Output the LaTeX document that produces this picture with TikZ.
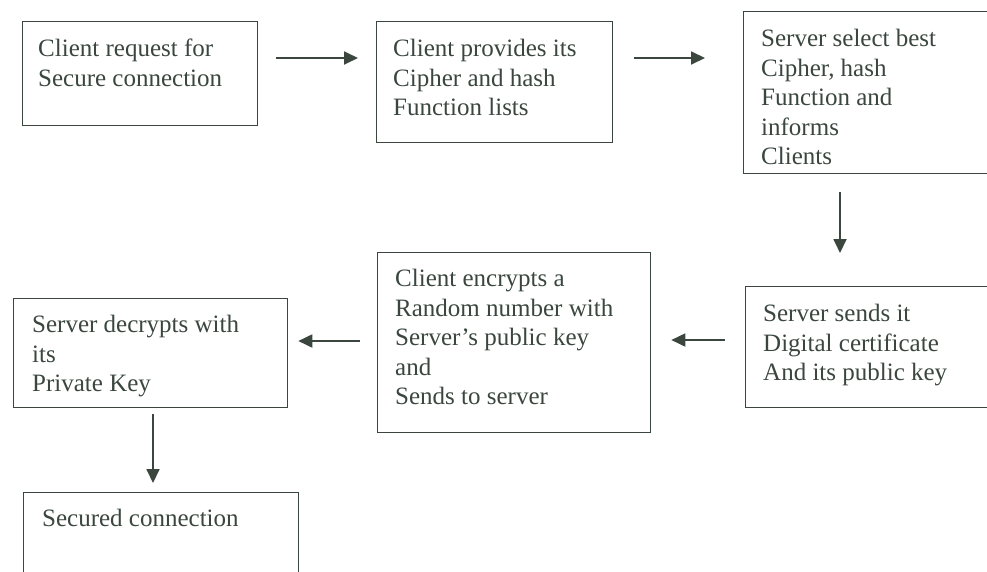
\documentclass[tikz,border=0pt]{standalone}
\usepackage{fontspec}
\setmainfont{Liberation Serif}
\usepackage{tikz}
\usetikzlibrary{arrows.meta}

\definecolor{ink}{RGB}{58,70,62}

\tikzset{
	stepbox/.style={draw=ink, line width=1.3pt, anchor=north west, inner sep=0pt},
	steptext/.style={anchor=north west, inner sep=0pt, align=left, text=ink,
		font=\fontsize{25}{29.6}\selectfont},
	flow/.style={draw=ink, line width=1.8pt, -{Triangle[length=14pt, width=13pt]}}
}

\begin{document}
\begin{tikzpicture}[x=1pt, y=-1pt]
		\useasboundingbox (0, 0) rectangle (987, 571);

		\node[stepbox, minimum width=235pt, minimum height=104pt] (request) at (22, 21) {};
		\node[stepbox, minimum width=236pt, minimum height=121pt] (provide) at (376, 21) {};
		\node[stepbox, minimum width=270pt, minimum height=162pt] (select) at (743, 11) {};
		\node[stepbox, minimum width=270pt, minimum height=121pt] (certificate) at (745, 286) {};
		\node[stepbox, minimum width=273pt, minimum height=180pt] (encrypt) at (377, 252) {};
		\node[stepbox, minimum width=274pt, minimum height=109pt] (decrypt) at (13, 298) {};
		\node[stepbox, minimum width=275pt, minimum height=100pt] (secured) at (23, 492) {};

		\node[steptext] (requestText) at ([shift={(16, 18)}]request.north west)
			{Client request for\\Secure connection};
		\node[steptext] (provideText) at ([shift={(17, 18)}]provide.north west)
			{Client provides its\\Cipher and hash\\Function lists};
		\node[steptext] (selectText) at ([shift={(18, 18)}]select.north west)
			{Server select best\\Cipher, hash\\Function and\\informs\\Clients};
		\node[steptext] (certificateText) at ([shift={(18, 18)}]certificate.north west)
			{Server sends it\\Digital certificate\\And its public key};
		\node[steptext] (encryptText) at ([shift={(18, 17)}]encrypt.north west)
			{Client encrypts a\\Random number with\\Server's public key\\and\\Sends to server};
		\node[steptext] (decryptText) at ([shift={(19, 17)}]decrypt.north west)
			{Server decrypts with\\its\\Private Key};
		\node[steptext] (securedText) at ([shift={(19, 17)}]secured.north west)
			{Secured connection};

		\draw[flow] ([shift={(18, 37)}]request.north east) -- ([shift={(-18, 37)}]provide.north west);
		\draw[flow] ([shift={(21, 37)}]provide.north east) -- ([shift={(-38, 47)}]select.north west);
		\draw[flow] ([shift={(97, 18)}]select.south west) -- ([shift={(95, -33)}]certificate.north west);
		\draw[flow] ([shift={(-20, 54)}]certificate.north west) -- ([shift={(20, 88)}]encrypt.north east);
		\draw[flow] ([shift={(-17, 89)}]encrypt.north west) -- ([shift={(10, 43)}]decrypt.north east);
		\draw[flow] ([shift={(140, 6)}]decrypt.south west) -- ([shift={(130, -9)}]secured.north west);
	\end{tikzpicture}
\end{document}
